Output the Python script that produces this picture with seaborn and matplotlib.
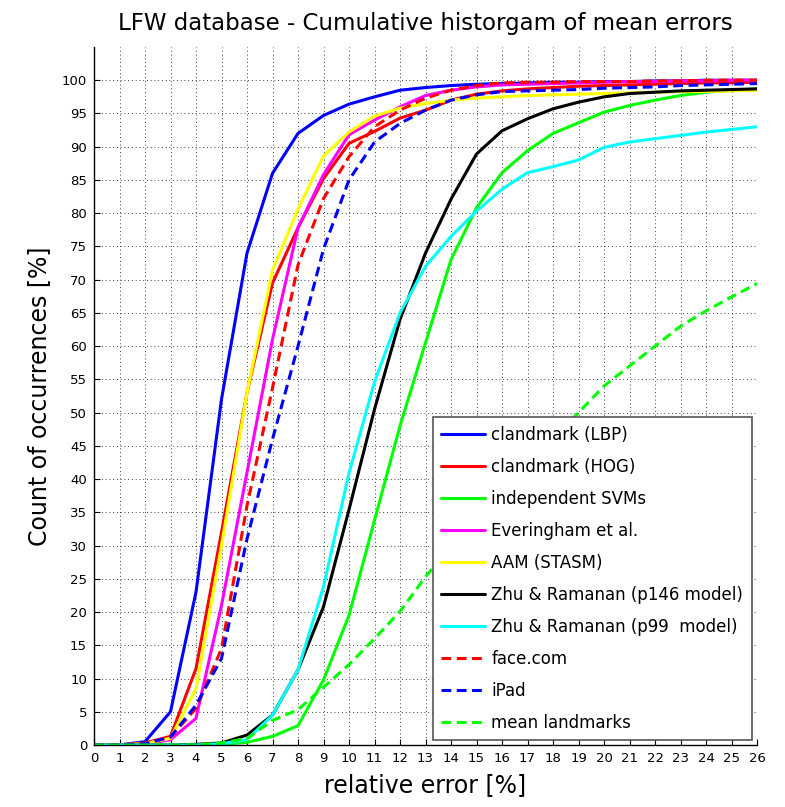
import numpy as np
import pandas as pd
import seaborn as sns
import matplotlib
matplotlib.use("Agg")
import matplotlib.pyplot as plt

# relative error [%] (x) — curves sampled at integer error values
err = list(range(0, 27))

lbp = [0, 0, 0.5, 5, 23, 52, 74, 86, 92, 94.7, 96.4, 97.5, 98.5, 98.9, 99.2, 99.4, 99.5,
       99.6, 99.7, 99.7, 99.8, 99.8, 99.9, 99.9, 100, 100, 100]
hog = [0, 0, 0.3, 1.3, 11.5, 32, 53, 69.5, 77.8, 85.2, 90.5, 92.3, 94.3, 95.5, 97, 97.9, 98.4,
       98.7, 98.9, 99.1, 99.2, 99.3, 99.4, 99.5, 99.6, 99.6, 99.7]
svm = [0, 0, 0, 0, 0, 0.1, 0.4, 1.3, 2.9, 9.8, 19.5, 33.8, 48, 60.5, 73, 80.8, 86.1,
       89.4, 92, 93.6, 95.2, 96.2, 97, 97.7, 98.2, 98.5, 98.7]
everingham = [0, 0, 0.1, 0.8, 4, 21, 41, 61, 77.8, 85.8, 91.8, 94, 96, 97.7, 98.5, 99, 99.3,
              99.4, 99.5, 99.6, 99.7, 99.8, 99.8, 99.9, 99.9, 100, 100]
aam = [0, 0, 0.2, 1, 8.5, 30, 53, 71.4, 80.6, 88.6, 92.2, 94.6, 95.8, 96.5, 97, 97.3, 97.5,
       97.7, 97.8, 97.9, 98, 98.1, 98.2, 98.3, 98.3, 98.4, 98.5]
zhu146 = [0, 0, 0, 0, 0.1, 0.3, 1.5, 4.5, 11.3, 20.8, 35.4, 50.5, 64, 74, 82.1, 88.9, 92.4,
          94.2, 95.7, 96.7, 97.5, 98, 98.2, 98.4, 98.5, 98.6, 98.7]
zhu99 = [0, 0, 0, 0, 0, 0.2, 0.8, 4.5, 11.3, 23.8, 40.9, 54.6, 65, 72, 76.5, 80.3, 83.6,
         86.1, 87, 88, 89.9, 90.7, 91.2, 91.7, 92.2, 92.6, 93]
facecom = [0, 0, 0.2, 1.2, 5.5, 14.5, 36, 53.7, 72.2, 82.2, 88.5, 93, 95.5, 97.3, 98.5, 99.2, 99.6,
           99.7, 99.7, 99.8, 99.8, 99.8, 99.9, 99.9, 100, 100, 100]
ipad = [0, 0, 0.2, 1.2, 6, 13, 31, 46, 60, 74.6, 85, 90.7, 93.5, 95.5, 97, 97.8, 98.3,
        98.4, 98.5, 98.6, 98.8, 98.9, 99, 99.2, 99.3, 99.4, 99.5]
mean_lm = [0, 0, 0, 0, 0, 0.3, 1, 3.7, 5.3, 8.7, 12.1, 16, 20.1, 25.3, 30, 34, 38,
           42, 46, 50, 54, 57, 60, 63, 65.3, 67.4, 69.4]

labels = ["clandmark (LBP)", "clandmark (HOG)", "independent SVMs", "Everingham et al.",
          "AAM (STASM)", "Zhu & Ramanan (p146 model)", "Zhu & Ramanan (p99  model)",
          "face.com", "iPad", "mean landmarks"]
series = [lbp, hog, svm, everingham, aam, zhu146, zhu99, facecom, ipad, mean_lm]
colors = ["#0000ff", "#ff0000", "#00ff00", "#ff00ff", "#ffff00", "#000000", "#00ffff",
          "#ff0000", "#0000ff", "#00ff00"]
dashed = [False] * 7 + [True] * 3

sns.set_theme(style="white")
plt.rcParams["font.family"] = ["DejaVu Sans"]
plt.rcParams["text.color"] = "black"
plt.rcParams["axes.labelcolor"] = "black"

fig = plt.figure(figsize=(7.85, 8.07), dpi=100)
ax = fig.add_axes([94 / 785, 62 / 807, 663 / 785, 698 / 807])

for lab, vals, col, dsh in zip(labels, series, colors, dashed):
    df = pd.DataFrame({"err": err, "count": vals})
    sns.lineplot(data=df, x="err", y="count", ax=ax, color=col, lw=2.2,
                 linestyle=(0, (3.2, 1.8)) if dsh else "-", label=lab)

ax.set_xlim(0, 26)
ax.set_ylim(0, 105)
ax.set_xticks(range(0, 27))
ax.set_yticks(range(0, 101, 5))
ax.tick_params(axis="both", direction="in", length=4, width=0.8, labelsize=9.5,
               colors="black", left=True, bottom=True, pad=5)
ax.grid(True, color="black", linestyle=(0, (1, 3.5)), linewidth=0.6)
for s in ["top", "right"]:
    ax.spines[s].set_visible(False)
for s in ["left", "bottom"]:
    ax.spines[s].set_color("black")
    ax.spines[s].set_linewidth(1)

ax.set_title("LFW database - Cumulative historgam of mean errors", fontsize=16.5, pad=12,
             color="black")
ax.set_xlabel("relative error [%]", fontsize=17, labelpad=6, color="black")
ax.set_ylabel("Count of occurrences [%]", fontsize=17, labelpad=8, color="black")

leg = ax.legend(loc="lower right", bbox_to_anchor=(0.992, 0.007), borderaxespad=0,
                fontsize=12, frameon=True, fancybox=False, framealpha=1, handlelength=2.6,
                labelspacing=0.84, handletextpad=0.4, borderpad=0.5, labelcolor="black")
leg.get_frame().set_edgecolor("#555555")
leg.get_frame().set_linewidth(1.2)

fig.savefig("out.png", dpi=100)
